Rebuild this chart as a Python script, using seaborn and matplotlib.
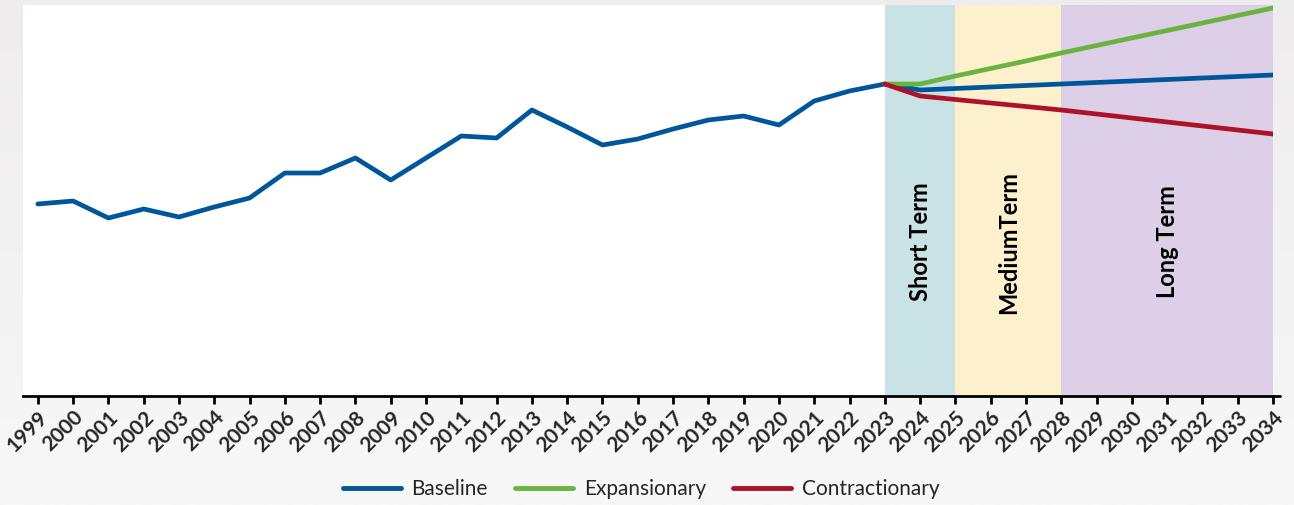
import numpy as np
import pandas as pd
import matplotlib
matplotlib.use("Agg")
import matplotlib.pyplot as plt
import seaborn as sns
from matplotlib.colors import LinearSegmentedColormap

years_hist = list(range(1999, 2024))
baseline_hist = [192, 195, 178, 187, 179, 189, 198, 223, 223, 238, 216, 238, 260, 258,
                 286, 269, 251, 257, 267, 276, 280, 271, 295, 305, 312]
years_proj = list(range(2023, 2035))
baseline_proj = [312, 306, 307.5, 309, 310.5, 312, 313.5, 315, 316.5, 318, 319.5, 321]
expansionary = [312, 312, 320, 327.5, 335, 343, 350.5, 358, 365.5, 373, 380.5, 388]
contractionary = [312, 300, 296.5, 293, 289.5, 286, 282, 278, 274, 270, 266, 262]
tick_years = list(range(1999, 2035))
periods = [("Short Term", 2023, 2025, "#c9e2e6"),
           ("MediumTerm", 2025, 2028, "#fdf1cd"),
           ("Long Term", 2028, 2034, "#dccfe7")]
series_colors = {"Baseline": "#00569b", "Expansionary": "#6bb33f", "Contractionary": "#ad1228"}

sns.set_theme(style="white")
plt.rcParams['font.family'] = ['Lato', 'DejaVu Sans']

fig = plt.figure(figsize=(12.94, 5.05), dpi=100)
bg = fig.add_axes([0, 0, 1, 1], zorder=-10)
grad = np.linspace(0, 1, 256).reshape(-1, 1)
cmap = LinearSegmentedColormap.from_list("bg", ["#eeecec", "#f8f8f8"])
bg.imshow(grad, aspect="auto", cmap=cmap, extent=[0, 1, 0, 1])
bg.axis("off")

ax = fig.add_axes([23/1294, (505-396)/505, (1273-23)/1294, (396-5)/505])
ax.set_facecolor("white")

for name, x0, x1, c in periods:
    ax.axvspan(x0, x1, color=c, lw=0, zorder=0)
    ax.text((x0 + x1) / 2, 154, name, rotation=90, ha="center", va="center",
            fontsize=17, fontweight="bold", color="black", zorder=1)

df_hist = pd.DataFrame({"Year": years_hist, "Value": baseline_hist, "Series": "Baseline"})
df_proj = pd.concat([
    pd.DataFrame({"Year": years_proj, "Value": baseline_proj, "Series": "Baseline"}),
    pd.DataFrame({"Year": years_proj, "Value": expansionary, "Series": "Expansionary"}),
    pd.DataFrame({"Year": years_proj, "Value": contractionary, "Series": "Contractionary"}),
])

sns.lineplot(data=df_hist, x="Year", y="Value", color=series_colors["Baseline"], lw=3.4,
             ax=ax, legend=False, solid_capstyle="round", zorder=3)
sns.lineplot(data=df_proj, x="Year", y="Value", hue="Series", palette=series_colors,
             hue_order=["Baseline", "Expansionary", "Contractionary"], lw=3.4, ax=ax,
             solid_capstyle="round", zorder=3)

ax.set_xlim(1998.58, 2034)
ax.set_ylim(0, 391)
ax.set_xticks(tick_years)
ax.set_xticklabels([str(y) for y in tick_years], rotation=45, ha="right",
                   rotation_mode="anchor", fontsize=15, fontweight="bold")
ax.set_yticks([])
ax.set_xlabel("")
ax.set_ylabel("")
for s in ["top", "right", "left"]:
    ax.spines[s].set_visible(False)
ax.spines["bottom"].set_color("black")
ax.spines["bottom"].set_linewidth(2)
ax.tick_params(axis="x", direction="out", length=6, width=2, color="black", bottom=True, pad=2)
ax.plot([2034, 2034.2], [0, 0], color="black", lw=2, clip_on=False, zorder=5)

handles, labels = ax.get_legend_handles_labels()
ax.get_legend().remove()
leg = fig.legend(handles, labels, loc="center", bbox_to_anchor=(641/1294, 16/505), ncol=3,
                 frameon=False, fontsize=15, handlelength=2.8, columnspacing=1.3,
                 handletextpad=0.5)
for l in leg.get_lines():
    l.set_linewidth(3.5)

fig.savefig("out.png", dpi=100)
